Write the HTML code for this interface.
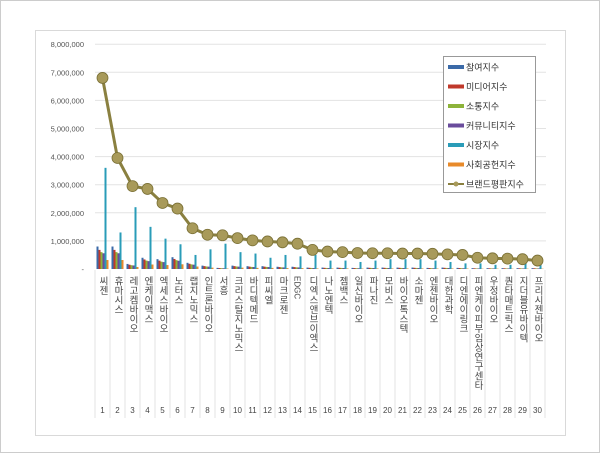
<!DOCTYPE html>
<html><head><meta charset="utf-8"><style>
body{margin:0;background:#fff;}
svg{display:block;font-family:"Liberation Sans","Noto Sans CJK KR",sans-serif;}
</style></head><body>
<svg id="s" width="600" height="453" xmlns="http://www.w3.org/2000/svg">
<rect x="0.5" y="0.5" width="599" height="452" fill="#fff" stroke="#ccc"/>
<rect x="35.5" y="30.5" width="530" height="405" fill="#fff" stroke="#d9d9d9"/>
<g id="g"></g>
</svg>
<script>
const g=document.getElementById('g');
const NS='http://www.w3.org/2000/svg';
function el(t,a,txt){const e=document.createElementNS(NS,t);for(const k in a)e.setAttribute(k,a[k]);if(txt!==undefined)e.textContent=txt;g.appendChild(e);return e;}
const y0=269,ppm=28.1,x0=95,step=15;
const Y=v=>y0-v*ppm;
for(let i=0;i<=8;i++){
 if(i>0)el('line',{x1:x0,x2:546,y1:Y(i),y2:Y(i),stroke:'#e3e3e3'});
 el('text',{x:84,y:Y(i)+3,'font-size':7.5,fill:'#555','text-anchor':'end'},i==0?'-':(i+',000,000'));
}
const names=['씨젠','휴마시스','레고켐바이오','엔케이맥스','엑세스바이오','노터스','랩지노믹스','인트론바이오','서흥','크리스탈지노믹스','바디텍메드','피씨엘','마크로젠','EDGC','디엑스앤브이엑스','나노엔텍','젬백스','일신바이오','파나진','모비스','바이오톡스텍','소마젠','엔젠바이오','대한과학','디엔에이링크','피엔케이피부임상연구센타','우정바이오','퀀타매트릭스','지더블유바이텍','프리시젠바이오'];
const brand=[6.8,3.95,2.95,2.85,2.35,2.15,1.45,1.22,1.2,1.1,1.02,0.98,0.95,0.9,0.68,0.62,0.6,0.57,0.56,0.56,0.55,0.55,0.54,0.52,0.5,0.4,0.38,0.37,0.35,0.3];
const mkt=[3.6,1.3,2.2,1.5,1.08,0.88,0.5,0.7,0.9,0.6,0.55,0.4,0.5,0.45,0.5,0.3,0.3,0.25,0.3,0.35,0.35,0.35,0.3,0.25,0.2,0.2,0.15,0.15,0.2,0.15];
const part=[0.8,0.8,0.18,0.4,0.35,0.42,0.22,0.12,0.04,0.12,0.1,0.1,0.08,0.08,0.05,0.05,0.05,0.04,0.05,0.05,0.05,0.05,0.04,0.05,0.04,0.03,0.03,0.03,0.03,0.03];
const cols=['#3b6aa8','#c0392b','#8db33a','#6a4c9c','#2a9cb8','#e88a2a'];
for(let i=0;i<30;i++){
 const cx=x0+step*(i+0.5);
 el('line',{x1:x0+step*i,x2:x0+step*i,y1:270,y2:418,stroke:'#e3e3e3'});
 const p=part[i];
 const vals=[p,p*0.85,p*0.75,p*0.7,mkt[i],p*0.4];
 vals.forEach((v,j)=>el('rect',{x:cx-6+j*2,y:Y(v),width:2,height:v*ppm,fill:cols[j]}));
 const t=el('text',{x:cx,y:276,'font-size':9.5,fill:'#444','writing-mode':'tb','glyph-orientation-vertical':0});
 t.textContent=names[i];
 if(names[i]=='EDGC'){t.setAttribute('transform',`rotate(90 ${cx-3} 276)`);t.removeAttribute('writing-mode');t.setAttribute('x',cx-3);t.setAttribute('y',276);t.setAttribute('font-size',8);}
 el('text',{x:cx,y:413,'font-size':8,fill:'#444','text-anchor':'middle'},String(i+1));
}
el('line',{x1:x0+step*30,x2:x0+step*30,y1:270,y2:418,stroke:'#e3e3e3'});
let d=brand.map((v,i)=>(i?'L':'M')+(x0+step*(i+0.5))+','+Y(v)).join('');
el('path',{d:d,fill:'none',stroke:'#8a8040','stroke-width':3});
brand.forEach((v,i)=>el('circle',{cx:x0+step*(i+0.5),cy:Y(v),r:5.5,fill:'#a89a5a',stroke:'#7a7035','stroke-width':0.8}));
el('rect',{x:443.5,y:56.5,width:92,height:136,fill:'#fff',stroke:'#999'});
const lg=['참여지수','미디어지수','소통지수','커뮤니티지수','시장지수','사회공헌지수'];
lg.forEach((n,j)=>{const yy=67+j*19.5;el('rect',{x:448,y:yy-2,width:16,height:4,fill:cols[j]});el('text',{x:466,y:yy+3.5,'font-size':9,fill:'#333'},n);});
el('line',{x1:448,x2:464,y1:184,y2:184,stroke:'#8a8040','stroke-width':2});
el('circle',{cx:456,cy:184,r:2.5,fill:'#a89a5a'});
el('text',{x:466,y:187.5,'font-size':9,fill:'#333'},'브랜드평판지수');
</script>
</body></html>
